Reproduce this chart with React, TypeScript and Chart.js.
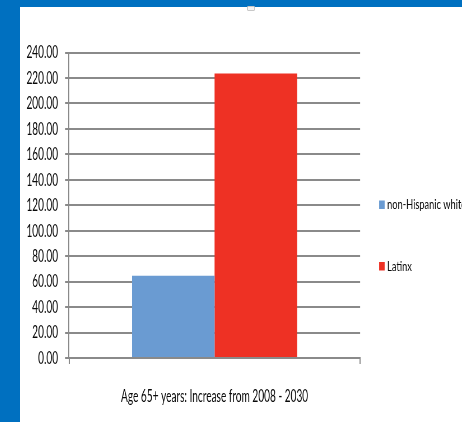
import React, { useEffect, useRef } from "react";
import { Chart, registerables } from "chart.js";

Chart.register(...registerables);

// Data
const categories = ["Age 65+ years: Increase from 2008 - 2030"];
const seriesNames = ["non-Hispanic white", "Latinx"];
const nonHispanicWhite = [64.6];
const latinx = [223.6];
const seriesColors = ["#6A9BD2", "#EE3124"];
const yMin = 0;
const yMax = 240;
const yStep = 20;

// The drawing is rendered wide and squeezed horizontally by CSS (SX).
const SX = 0.56;
const CSS_W = 442;
const CSS_H = 415;
const W = Math.round(CSS_W / SX);
const H = CSS_H;
const lx = (x: number) => (x - 20) / SX; // page x -> canvas x
const ly = (y: number) => y - 7; // page y -> canvas y

const FONT = "Lato, 'Liberation Sans', sans-serif";
const GRID = "#8a8a8a";
const TEXT = "#0a0a0a";
const LEGEND_STRETCH = 1.32; // legend text is a little wider than the axis text

const legendPlugin = {
  id: "sideLegend",
  afterDraw(chart: any) {
    const ctx = chart.ctx;
    const rows = [200.5, 262];
    ctx.save();
    chart.data.datasets.forEach((ds: any, i: number) => {
      const top = ly(rows[i]);
      ctx.fillStyle = ds.backgroundColor;
      ctx.fillRect(lx(379), top, 5.5 / SX, 8.5);
      ctx.save();
      ctx.translate(lx(387), top + 8.5);
      ctx.scale(LEGEND_STRETCH, 1);
      ctx.fillStyle = TEXT;
      ctx.font = `12.5px ${FONT}`;
      ctx.textBaseline = "alphabetic";
      ctx.textAlign = "left";
      ctx.fillText(ds.label, 0, 0);
      ctx.restore();
    });
    ctx.restore();
  },
};

export default function App() {
  const ref = useRef<HTMLCanvasElement>(null);

  useEffect(() => {
    const canvas = ref.current!;
    const chart = new Chart(canvas, {
      type: "bar",
      data: {
        labels: categories,
        datasets: [
          { label: seriesNames[0], data: nonHispanicWhite, backgroundColor: seriesColors[0] },
          { label: seriesNames[1], data: latinx, backgroundColor: seriesColors[1] },
        ],
      },
      options: {
        responsive: false,
        animation: false,
        devicePixelRatio: 1,
        layout: {
          padding: { left: 0, top: ly(52.5), right: W - lx(360), bottom: 0 },
        },
        datasets: {
          bar: { categoryPercentage: 0.567, barPercentage: 1 },
        },
        plugins: {
          legend: { display: false },
          tooltip: { enabled: false },
          title: { display: false },
        },
        scales: {
          x: {
            offset: true,
            grid: {
              offset: true,
              drawOnChartArea: false,
              drawTicks: true,
              tickLength: 6,
              color: GRID,
              lineWidth: 2,
            },
            border: { display: true, color: GRID, width: 2 },
            ticks: {
              color: TEXT,
              font: { family: FONT, size: 18 },
              padding: 21,
              maxRotation: 0,
              autoSkip: false,
            },
            afterFit(scale: any) {
              scale.height = H - ly(358);
            },
          },
          y: {
            min: yMin,
            max: yMax,
            ticks: {
              stepSize: yStep,
              color: TEXT,
              font: { family: FONT, size: 18 },
              padding: 7 / SX,
              callback: (v: any) => Number(v).toFixed(2),
            },
            grid: {
              color: GRID,
              lineWidth: 2,
              drawTicks: true,
              tickLength: 4 / SX,
            },
            border: { display: true, color: GRID, width: 2 },
            afterFit(scale: any) {
              scale.width = lx(69);
            },
          },
        },
      },
      plugins: [legendPlugin],
    });
    return () => chart.destroy();
  }, []);

  return (
    <div
      style={{
        position: "absolute",
        left: 0,
        top: 0,
        width: 462,
        height: 422,
        background: "#0070C0",
        overflow: "hidden",
      }}
    >
      <div
        style={{
          position: "absolute",
          left: 20,
          top: 7,
          width: CSS_W,
          height: CSS_H,
          background: "#ffffff",
        }}
      >
        <canvas
          ref={ref}
          width={W}
          height={H}
          style={{ display: "block", width: CSS_W, height: CSS_H }}
        />
      </div>
      <div
        style={{
          position: "absolute",
          left: 247,
          top: 6,
          width: 6,
          height: 3,
          background: "#f4f4f4",
          border: "1px solid #c8c8c8",
          borderRadius: 1,
        }}
      />
    </div>
  );
}
